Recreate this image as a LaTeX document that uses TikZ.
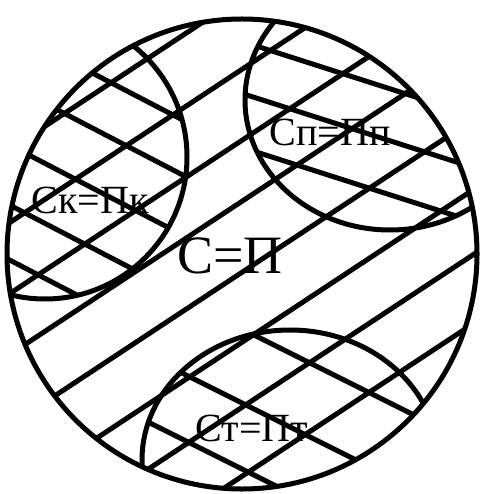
\documentclass[tikz,border=0pt]{standalone}
\usepackage{fontspec}
\setmainfont{Liberation Serif}
\begin{document}
\begin{tikzpicture}[x=1pt, y=-1pt,
    hatch/.style={line width=5pt, line cap=round},
    rim/.style={line width=5pt},
    zone/.style={font=\fontsize{40}{40}\selectfont, inner sep=0pt},
    whole/.style={font=\fontsize{54}{54}\selectfont, inner sep=0pt}
]
    \useasboundingbox (0,0) rectangle (481,494);
    \coordinate (o) at (242,254);
    \coordinate (ck) at (45,157);
    \coordinate (cp) at (390,100);
    \coordinate (ct) at (290,460);

    % Hatching over the whole circle
    \begin{scope}
        \clip (o) circle [radius=235];
        \foreach \c in {156,229,300,361,432,502,567,636}
            \draw[hatch] (0,\c) -- (481,{\c-0.66*481});
    \end{scope}

    % Cross hatching, zone K
    \begin{scope}
        \clip (o) circle [radius=235];
        \clip (ck) circle [radius=142];
        \foreach \d in {-28,25,80,140,200,255}
            \draw[hatch] (-100,{\d-52}) -- (300,{\d+156});
    \end{scope}

    % Cross hatching, zone P
    \begin{scope}
        \clip (o) circle [radius=235];
        \clip (cp) ellipse [x radius=145, y radius=130];
        \foreach \d in {-36,16,70}
            \draw[hatch] (200,{\d+64}) -- (500,{\d+160});
    \end{scope}

    % Cross hatching, zone T
    \begin{scope}
        \clip (o) circle [radius=235];
        \clip (ct) ellipse [x radius=148, y radius=130];
        \foreach \d in {208,282,348}
            \draw[hatch] (100,{\d+50}) -- (480,{\d+240});
    \end{scope}

    % Zone borders
    \begin{scope}
        \clip (o) circle [radius=235];
        \draw[rim] (ck) circle [radius=142];
        \draw[rim] (cp) ellipse [x radius=145, y radius=130];
        \draw[rim] (ct) ellipse [x radius=148, y radius=130];
    \end{scope}

    % Outer circle
    \draw[rim] (o) circle [radius=235];

    % Labels
    \node (whole) [whole] at (230,256) {С=П};
    \node (zk) [zone] at (90,200) {Ск=Пк};
    \node (zp) [zone] at (330,132) {Сп=Пп};
    \node (zt) [zone] at (252,428) {Ст=Пт};
\end{tikzpicture}
\end{document}
